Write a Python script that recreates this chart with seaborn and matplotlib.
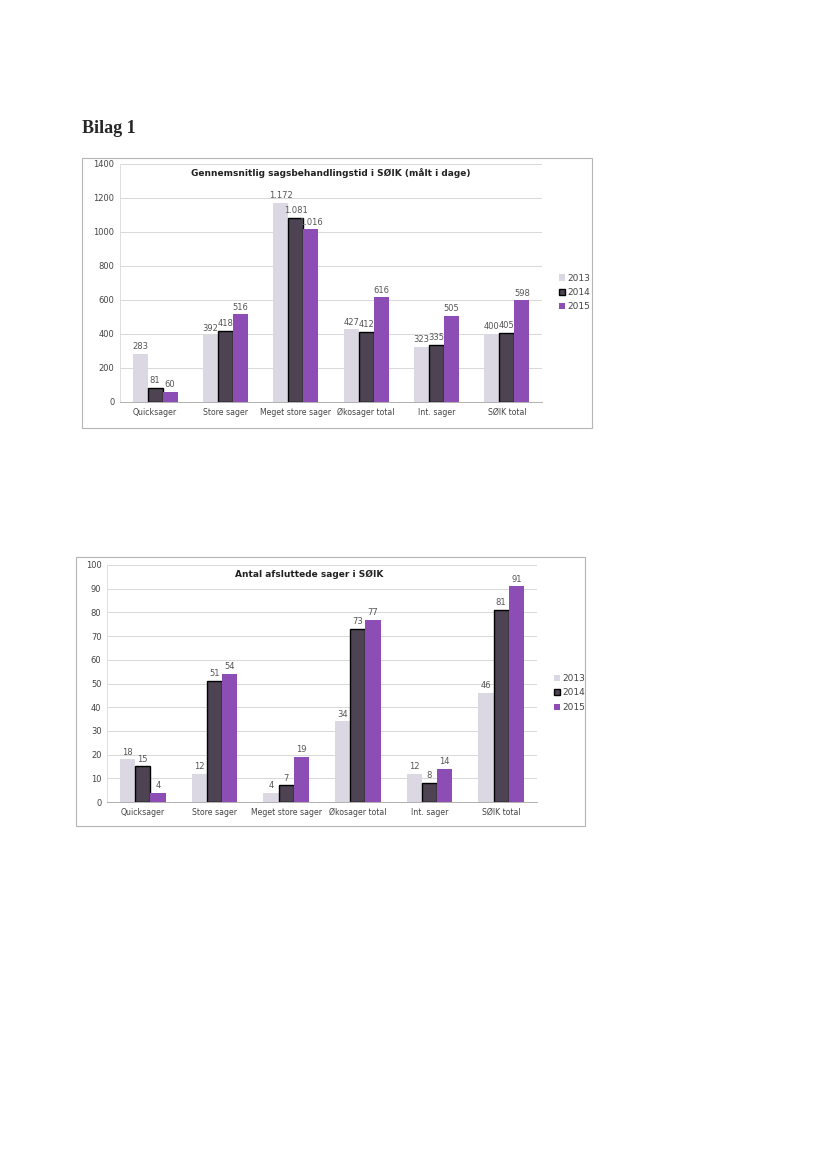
import matplotlib
matplotlib.use("Agg")
import matplotlib.pyplot as plt
import seaborn as sns
import pandas as pd
from matplotlib.patches import Rectangle, Patch

categories = ["Quicksager", "Store sager", "Meget store sager", "Økosager total", "Int. sager", "SØIK total"]
years = ["2013", "2014", "2015"]

tid_2013 = [283, 392, 1172, 427, 323, 400]
tid_2014 = [81, 418, 1081, 412, 335, 405]
tid_2015 = [60, 516, 1016, 616, 505, 598]

antal_2013 = [18, 12, 4, 34, 12, 46]
antal_2014 = [15, 51, 7, 73, 8, 81]
antal_2015 = [4, 54, 19, 77, 14, 91]

title1 = "Gennemsnitlig sagsbehandlingstid i SØIK (målt i dage)"
title2 = "Antal afsluttede sager i SØIK"

colors = {"2013": "#dcd8e3", "2014": "#4d4352", "2015": "#8c4db4"}

sns.set_theme(style="white")
plt.rcParams["font.family"] = ["DejaVu Sans"]


def long_df(s13, s14, s15):
    rows = []
    for yr, vals in zip(years, [s13, s14, s15]):
        for c, v in zip(categories, vals):
            rows.append({"cat": c, "year": yr, "val": v})
    return pd.DataFrame(rows)


def fmt(v):
    return f"{v:,}".replace(",", ".")


fig = plt.figure(figsize=(8.28, 11.69), dpi=100)
fig.patch.set_facecolor("white")

fig.text(82 / 828, 1 - 133 / 1169, "Bilag 1", family=["Liberation Serif"], weight="bold",
         fontsize=13, ha="left", va="baseline")


def draw(ax_rect, frame_rect, df, ymax, step, title, title_x, leg_pos):
    fig.add_artist(Rectangle((frame_rect[0], frame_rect[1]), frame_rect[2], frame_rect[3],
                             transform=fig.transFigure, fill=False, edgecolor="#b5b5b5", lw=0.8))
    ax = fig.add_axes(ax_rect)
    sns.barplot(data=df, x="cat", y="val", hue="year", palette=colors, width=0.64,
                ax=ax, legend=False, saturation=1)
    for cont, yr in zip(ax.containers, years):
        for bar in cont:
            if yr == "2014":
                bar.set_edgecolor("black")
                bar.set_linewidth(1.0)
            else:
                bar.set_edgecolor("none")
        ax.bar_label(cont, labels=[fmt(int(round(b.get_height()))) for b in cont], padding=2,
                     fontsize=6, color="#555555")
    ax.set_ylim(0, ymax)
    ax.set_xlim(-0.5, len(categories) - 0.5)
    ax.set_yticks(range(0, ymax + 1, step))
    ax.yaxis.grid(True, color="#d8d8d8", lw=0.7)
    ax.set_axisbelow(True)
    ax.set_xlabel("")
    ax.set_ylabel("")
    for s in ["top", "right"]:
        ax.spines[s].set_visible(False)
    ax.spines["left"].set_color("#dddddd")
    ax.spines["bottom"].set_color("#b0b0b0")
    ax.spines["left"].set_linewidth(0.7)
    ax.spines["bottom"].set_linewidth(0.7)
    ax.tick_params(axis="y", labelsize=6, colors="#444444", length=0, pad=4)
    ax.tick_params(axis="x", labelsize=5.6, colors="#444444", length=0, pad=4)
    ax.set_facecolor("white")
    ax.text(title_x, 0.96, title, transform=ax.transAxes, ha="center", va="center",
            fontsize=6.5, weight="bold", color="#222222")
    handles = [Patch(facecolor=colors[y], edgecolor="black" if y == "2014" else "none", label=y)
               for y in years]
    ax.legend(handles=handles, loc="center left", bbox_to_anchor=leg_pos, frameon=False,
              fontsize=6.5, handlelength=0.7, handleheight=0.7, handletextpad=0.3,
              labelspacing=0.6, labelcolor="#444444")
    return ax


df1 = long_df(tid_2013, tid_2014, tid_2015)
df2 = long_df(antal_2013, antal_2014, antal_2015)

draw([120 / 828, 767 / 1169, 422 / 828, 238 / 1169],
     [82 / 828, (1169 - 428) / 1169, 510 / 828, 270 / 1169],
     df1, 1400, 200, title1, 0.5, (1.02, 0.46))

draw([107 / 828, 367 / 1169, 430 / 828, 237 / 1169],
     [76 / 828, (1169 - 826) / 1169, 509 / 828, 269 / 1169],
     df2, 100, 10, title2, 0.47, (1.02, 0.46))

fig.savefig("out.png", dpi=100, facecolor="white")
